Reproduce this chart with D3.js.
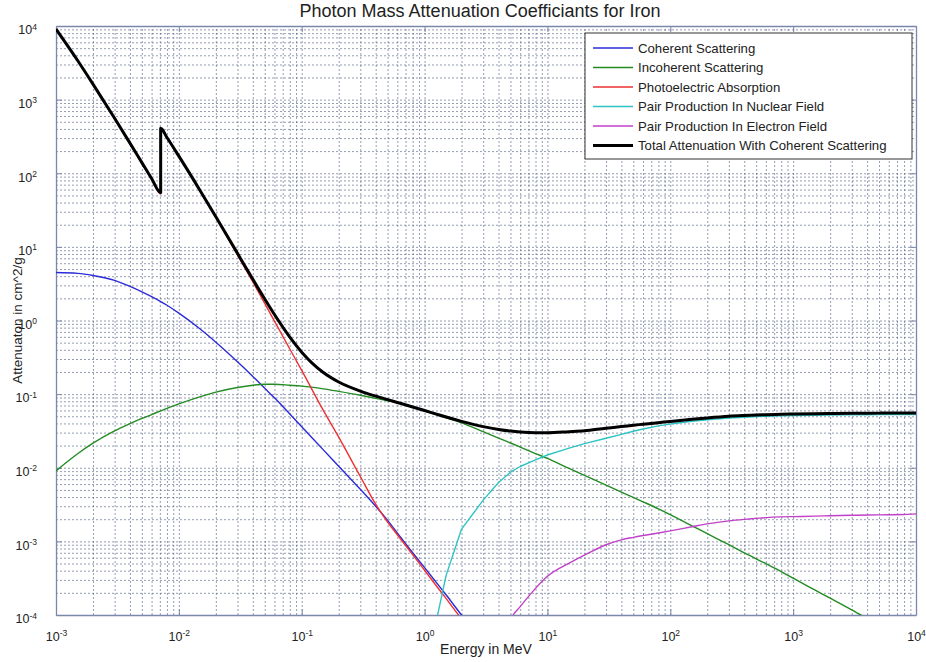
<!DOCTYPE html>
<meta charset="utf-8">
<style>
  body { margin: 0; background: #fff; }
  text { font-family: "Liberation Sans", Arial, sans-serif; fill: #222; }
  .grid line { stroke: #4c5a82; stroke-opacity: 0.75; stroke-dasharray: 2,2; stroke-width: 0.8; }
  .grid path { display: none; }
  .frame path, .frame line { stroke: #7b88aa; }
  .curve { fill: none; stroke-linejoin: round; }
</style>
<svg width="926" height="662"></svg>
<script src="https://d3js.org/d3.v7.min.js"></script>
<script>
// photon energies in MeV (K edge listed twice)
const energy = [
  1e-3, 1.5e-3, 2e-3, 3e-3, 4e-3, 5e-3, 6e-3, 7.112e-3, 7.112e-3, 8e-3,
  1e-2, 1.5e-2, 2e-2, 3e-2, 4e-2, 5e-2, 6e-2, 8e-2,
  0.1, 0.15, 0.2, 0.3, 0.4, 0.5, 0.6, 0.8,
  1, 1.25, 1.5, 2, 3, 4, 5, 6, 8,
  10, 15, 20, 30, 40, 50, 60, 80,
  100, 150, 200, 300, 400, 500, 600, 800,
  1000, 1500, 2000, 3000, 4000, 5000, 6000, 8000,
  10000
]

const coherent = [
  4.49, 4.37, 4.09, 3.51, 2.90, 2.45, 2.11, 1.81, 1.81, 1.61,
  1.26, 0.759, 0.507, 0.275, 0.174, 0.120, 0.089, 0.0537,
  0.0361, 0.0175, 0.0105, 0.0051, 0.0030, 0.00193, 0.0013, 7.0e-4,
  4.4e-4, 2.75e-4, 1.87e-4, 1.0e-4, 4.5e-5, 2.5e-5, 1.6e-5, 1.1e-5, 6.3e-6,
  4e-6, null, null, null, null, null, null, null,
  null, null, null, null, null, null, null, null,
  null, null, null, null, null, null, null, null,
  null
]

const incoherent = [
  0.00908, 0.0155, 0.0216, 0.0317, 0.0397, 0.0467, 0.0528, 0.0593, 0.0593, 0.0641,
  0.0738, 0.0927, 0.1064, 0.123, 0.132, 0.136, 0.136, 0.132,
  0.1285, 0.118, 0.109, 0.0966, 0.0877, 0.0813, 0.0766, 0.0664,
  0.0589, 0.0523, 0.0476, 0.0408, 0.0309, 0.0253, 0.0217, 0.0191, 0.0156,
  0.0134, 0.00978, 0.00789, 0.0058, 0.00468, 0.00395, 0.00345, 0.00277,
  0.0023, 0.00163, 0.00127, 9.0e-4, 7.0e-4, 5.8e-4, 4.97e-4, 3.88e-4,
  3.16e-4, 2.19e-4, 1.69e-4, 1.17e-4, 9.0e-5, 7.4e-5, 6.3e-5, 4.9e-5,
  4.0e-5
]

const photoelectric = [
  9080, 3395, 1622, 554, 254, 137, 82.6, 52.7, 405, 303.9,
  169.3, 56.3, 25.1, 7.79, 3.34, 1.71, 0.98, 0.41,
  0.21, 0.060, 0.026, 0.0076, 0.0032, 0.00183, 0.00123, 6.6e-4,
  4.05e-4, 2.48e-4, 1.67e-4, 8.9e-5, 4.5e-5, 3e-5, 2.3e-5, 1.9e-5, 1.4e-5,
  1.1e-5, null, null, null, null, null, null, null,
  null, null, null, null, null, null, null, null,
  null, null, null, null, null, null, null, null,
  null
]

const pairNuclear = [
  null, null, null, null, null, null, null, null, null, null,
  null, null, null, null, null, null, null, null,
  null, null, null, null, null, null, null, null,
  null, 8.5e-5, 3.48e-4, 1.47e-3, 3.63e-3, 6.3e-3, 8.7e-3, 0.0104, 0.0128,
  0.0149, 0.01845, 0.0213, 0.0252, 0.0284, 0.0313, 0.0336, 0.037,
  0.0392, 0.0428, 0.0449, 0.0474, 0.0486, 0.0495, 0.0500, 0.0507,
  0.0511, 0.0517, 0.052, 0.0523, 0.0525, 0.0526, 0.0527, 0.0528,
  0.0529
]

const pairElectron = [
  null, null, null, null, null, null, null, null, null, null,
  null, null, null, null, null, null, null, null,
  null, null, null, null, null, null, null, null,
  null, null, null, null, null, 3.5e-5, 8.8e-5, 1.3e-4, 2.3e-4,
  3.35e-4, 5.05e-4, 6.5e-4, 9.0e-4, 1.05e-3, 1.135e-3, 1.2e-3, 1.3e-3,
  1.39e-3, 1.58e-3, 1.73e-3, 1.9e-3, 1.99e-3, 2.05e-3, 2.1e-3, 2.15e-3,
  2.17e-3, 2.2e-3, 2.23e-3, 2.26e-3, 2.28e-3, 2.29e-3, 2.3e-3, 2.32e-3,
  2.36e-3
]

const total = [
  9085, 3399, 1626, 557.6, 256.7, 139.5, 84.84, 54.69, 407.5, 305.6,
  170.6, 57.08, 25.68, 8.176, 3.629, 1.958, 1.205, 0.5952,
  0.3717, 0.1964, 0.146, 0.1099, 0.094, 0.08414, 0.07704, 0.06699,
  0.05995, 0.0535, 0.04883, 0.04265, 0.03621, 0.03312, 0.03146, 0.03057, 0.02991,
  0.02994, 0.03092, 0.0318, 0.0345, 0.0362, 0.0378, 0.039, 0.041,
  0.0425, 0.0455, 0.0475, 0.050, 0.0512, 0.052, 0.0525, 0.0532,
  0.0537, 0.0543, 0.0546, 0.0549, 0.0551, 0.0552, 0.0553, 0.0554,
  0.0555
]

const seriesNames = [
  "Coherent Scattering",
  "Incoherent Scattering",
  "Photoelectric Absorption",
  "Pair Production In Nuclear Field",
  "Pair Production In Electron Field",
  "Total Attenuation With Coherent Scattering"
]
const seriesValues = [coherent, incoherent, photoelectric, pairNuclear, pairElectron, total]
const seriesColors = ["#2b2bd8", "#228b22", "#ee3030", "#2ec4c4", "#c040c8", "#000000"]
const seriesWidths = [1.4, 1.4, 1.4, 1.4, 1.4, 3]
const seriesCurves = [d3.curveMonotoneX, d3.curveMonotoneX, d3.curveMonotoneX,
  d3.curveLinear, d3.curveMonotoneX, d3.curveMonotoneX]

const xMajor = [1e-3, 1e-2, 1e-1, 1e0, 1e1, 1e2, 1e3, 1e4]
const yMajor = [1e-4, 1e-3, 1e-2, 1e-1, 1e0, 1e1, 1e2, 1e3, 1e4]

// ====================================================================
const svg = d3.select("svg")
const mLeft = 56, mRight = 916, mTop = 26, mBottom = 615
const pw = mRight - mLeft, ph = mBottom - mTop

const x = d3.scaleLog().domain([1e-3, 1e4]).range([0, pw])
const y = d3.scaleLog().domain([1e-4, 1e4]).range([ph, 0])

const plot = svg.append("g").attr("transform", `translate(${mLeft},${mTop})`)

plot.append("clipPath").attr("id", "clip")
  .append("rect").attr("width", pw).attr("height", ph)

// dotted grid at every decade multiple
plot.append("g").attr("class", "grid")
  .attr("transform", `translate(0,${ph})`)
  .call(d3.axisBottom(x).tickValues(x.ticks()).tickSize(-ph).tickFormat(""))
plot.append("g").attr("class", "grid")
  .call(d3.axisLeft(y).tickValues(y.ticks()).tickSize(-pw).tickFormat(""))

// frame with inner major ticks
plot.append("g").attr("class", "frame").attr("transform", `translate(0,${ph})`)
  .call(d3.axisBottom(x).tickValues(xMajor).tickSize(-6).tickSizeOuter(0).tickFormat(""))
plot.append("g").attr("class", "frame")
  .call(d3.axisTop(x).tickValues(xMajor).tickSize(-6).tickSizeOuter(0).tickFormat(""))
plot.append("g").attr("class", "frame")
  .call(d3.axisLeft(y).tickValues(yMajor).tickSize(-6).tickSizeOuter(0).tickFormat(""))
plot.append("g").attr("class", "frame").attr("transform", `translate(${pw},0)`)
  .call(d3.axisRight(y).tickValues(yMajor).tickSize(-6).tickSizeOuter(0).tickFormat(""))
plot.selectAll(".frame path").attr("stroke-width", 1.3)

// tick labels as 10 with exponent
const xl = plot.append("g").attr("transform", `translate(0,${ph})`)
  .call(d3.axisBottom(x).tickValues(xMajor).tickSize(0).tickPadding(17).tickFormat(() => "10"))
xl.select(".domain").remove()
xl.selectAll("text").attr("font-size", 12.5).attr("font-family", null).attr("fill", "#333")
  .append("tspan").attr("dy", "-0.55em").attr("font-size", 8.5)
  .text(d => Math.round(Math.log10(d)))

const yl = plot.append("g")
  .call(d3.axisLeft(y).tickValues(yMajor).tickSize(0).tickPadding(19).tickFormat(() => "10"))
yl.select(".domain").remove()
yl.selectAll("text").attr("font-size", 12.5).attr("font-family", null).attr("fill", "#333")
  .attr("dy", "0.62em")
  .append("tspan").attr("dy", "-0.55em").attr("font-size", 8.5)
  .text(d => Math.round(Math.log10(d)))

// curves
plot.append("g").attr("clip-path", "url(#clip)")
  .selectAll("path")
  .data(seriesValues)
  .join("path")
  .attr("class", "curve")
  .attr("stroke", (d, i) => seriesColors[i])
  .attr("stroke-width", (d, i) => seriesWidths[i])
  .attr("d", (vals, k) => d3.line()
    .defined(d => d[1] != null)
    .x(d => x(d[0]))
    .y(d => y(d[1]))
    .curve(seriesCurves[k])(vals.map((v, i) => [energy[i], v])))

// titles
svg.append("text").attr("x", 480).attr("y", 17)
  .attr("text-anchor", "middle").attr("font-size", 18)
  .text("Photon Mass Attenuation Coefficiants for Iron")
svg.append("text").attr("x", mLeft + pw / 2).attr("y", 654)
  .attr("text-anchor", "middle").attr("font-size", 14).attr("fill", "#333")
  .text("Energy in MeV")
svg.append("text").attr("transform", `translate(22,${mTop + ph / 2}) rotate(-90)`)
  .attr("text-anchor", "middle").attr("font-size", 13.5).attr("fill", "#333")
  .text("Attenuaton in cm^2/g")

// legend
const legend = svg.append("g").attr("transform", "translate(585,33)")
legend.append("rect").attr("width", 327).attr("height", 126)
  .attr("fill", "#fff").attr("stroke", "#333").attr("stroke-width", 1)
const item = legend.selectAll("g.item")
  .data(seriesNames)
  .join("g").attr("class", "item")
  .attr("transform", (d, i) => `translate(0,${15 + i * 19.5})`)
item.append("line").attr("x1", 8).attr("x2", 48)
  .attr("stroke", (d, i) => seriesColors[i])
  .attr("stroke-width", (d, i) => seriesWidths[i])
item.append("text").attr("x", 53).attr("dy", "0.35em").attr("font-size", 13.2)
  .text(d => d)
</script>
